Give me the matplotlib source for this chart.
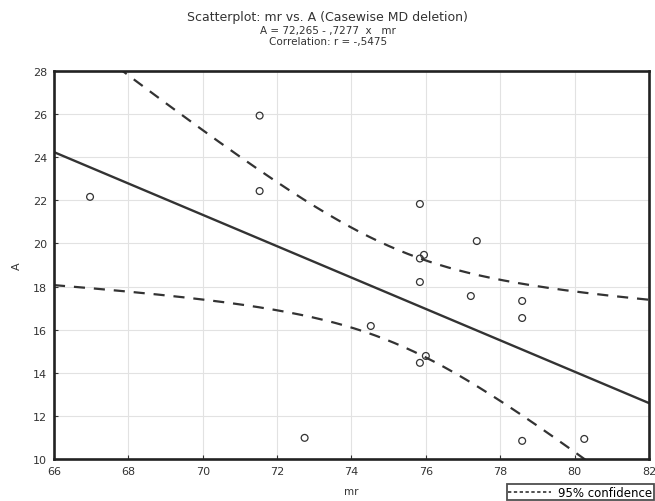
import numpy as np
import matplotlib
matplotlib.use("Agg")
import matplotlib.pyplot as plt
from matplotlib.lines import Line2D

# data
mr = [66.97, 71.53, 71.53, 72.74, 74.52, 75.84, 75.95, 75.84, 75.84, 75.84, 76.0, 77.37, 77.21, 78.59, 78.59, 78.59, 80.26]
A = [22.16, 25.93, 22.43, 10.98, 16.17, 21.83, 19.47, 19.3, 18.21, 14.46, 14.78, 20.11, 17.56, 17.33, 16.54, 10.84, 10.93]
intercept = 72.265
slope = -0.7277
# 95% confidence band: half-width^2 = var0 + curv*(x - centre)^2
band_centre = 75.2
band_var0 = 4.81
band_curv = 0.393
xticks = [66, 68, 70, 72, 74, 76, 78, 80, 82]
yticks = [10, 12, 14, 16, 18, 20, 22, 24, 26, 28]

x = np.array(mr)
y = np.array(A)

fig = plt.figure(figsize=(6.55, 5.02), dpi=100)
ax = fig.add_axes([0.0824, 0.0837, 0.9084, 0.7729])

xs = np.linspace(66, 82, 300)
fit = intercept + slope * xs
hw = np.sqrt(band_var0 + band_curv * (xs - band_centre) ** 2)

col = "#333333"
ax.plot(xs, fit, color=col, lw=1.7)
ax.plot(xs, fit + hw, color=col, lw=1.6, ls=(0, (5, 4)))
ax.plot(xs, fit - hw, color=col, lw=1.6, ls=(0, (5, 4)))
ax.scatter(x, y, s=24, facecolors="none", edgecolors=col, linewidths=0.9, zorder=3)

ax.set_xlim(66, 82)
ax.set_ylim(10, 28)
ax.set_xticks(xticks)
ax.set_yticks(yticks)
ax.grid(True, color="#e2e2e2", lw=0.8)
ax.set_axisbelow(True)
for sp in ax.spines.values():
    sp.set_linewidth(1.9)
    sp.set_color("#222222")
ax.tick_params(direction="in", length=3, labelsize=8, colors=col, width=0.8, pad=5)
ax.set_xlabel("mr", fontsize=7.5, color=col, labelpad=7)
ax.set_ylabel("A", fontsize=8, color=col, labelpad=8)

fig.text(0.5, 0.966, "Scatterplot: mr vs. A (Casewise MD deletion)", ha="center", va="center", fontsize=9, color=col)
fig.text(0.501, 0.939, "A = 72,265 - ,7277  x   mr", ha="center", va="center", fontsize=7.5, color=col)
fig.text(0.501, 0.916, "Correlation: r = -,5475", ha="center", va="center", fontsize=7.5, color=col)

h = Line2D([0], [0], color=col, lw=1.2, ls=(0, (2, 1.5)))
leg = fig.legend([h], ["95% confidence"], loc="lower right", bbox_to_anchor=(0.999, 0.0),
                 fontsize=8.5, frameon=True, fancybox=False, edgecolor="#222222",
                 handlelength=3.6, borderpad=0.15, handletextpad=0.6, borderaxespad=0.05)
leg.get_frame().set_linewidth(1.3)

fig.savefig("out.png", dpi=100)
